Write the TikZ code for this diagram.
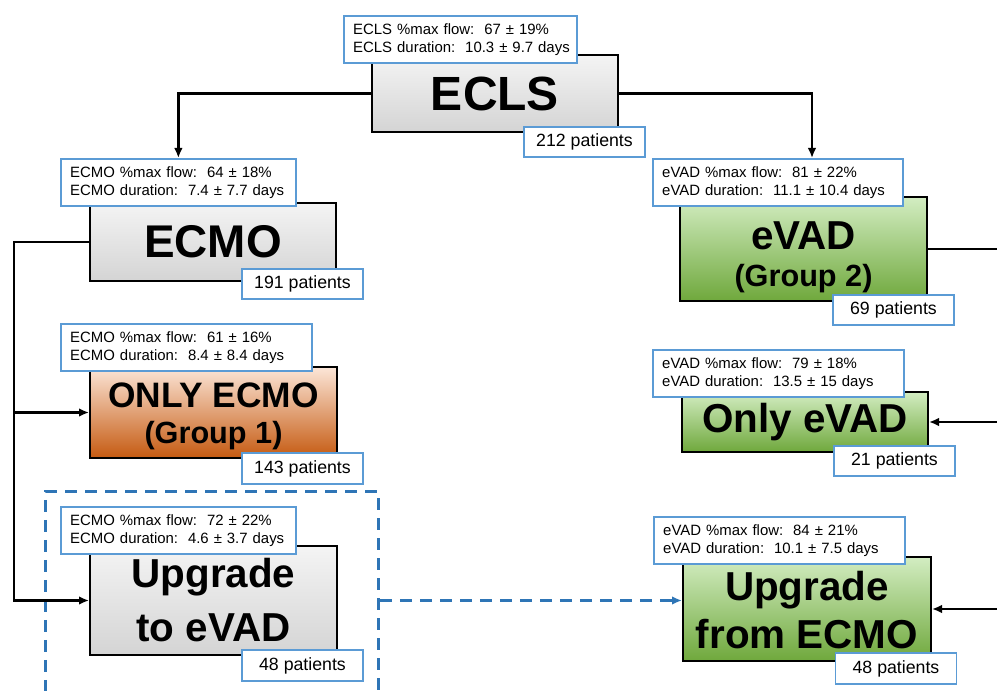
\documentclass[tikz,border=0pt]{standalone}
\usepackage{fontspec}
\setmainfont{Liberation Sans}
\usepackage{tikz}
\usetikzlibrary{arrows.meta,fit,positioning}

\definecolor{infoblue}{HTML}{5B9BD5}
\definecolor{dashblue}{HTML}{2E75B6}
\definecolor{grayA}{HTML}{F4F4F4}
\definecolor{grayB}{HTML}{D4D4D4}
\definecolor{orangeA}{HTML}{FCE6D8}
\definecolor{orangeB}{HTML}{F4B183}
\definecolor{orangeC}{HTML}{C55A11}
\definecolor{greenA}{HTML}{D3EDC2}
\definecolor{greenB}{HTML}{92D050}
\definecolor{greenC}{HTML}{6FA83C}

% two lines of an info box, never broken
\newcommand{\infolines}[2]{\mbox{#1}\\\mbox{#2}}

\tikzset{
	mainbox/.style={draw=black, line width=1.5pt, align=center, inner sep=0pt},
	graybox/.style={mainbox, top color=grayA, bottom color=grayB},
	orangebox/.style={mainbox, top color=orangeA, middle color=orangeB, bottom color=orangeC},
	greenbox/.style={mainbox, top color=greenA, middle color=greenB, bottom color=greenC},
	infobox/.style={draw=infoblue, fill=white, line width=1.3pt, anchor=north west, align=left,
		inner xsep=7pt, inner ysep=0pt, text width={#1-14pt}, minimum height=35.5pt,
		font=\fontsize{11.2}{13.5}\selectfont},
	patbox/.style={draw=infoblue, fill=white, line width=1.3pt, inner sep=0pt,
		minimum width=90.75pt, minimum height=23pt, font=\fontsize{13.3}{15}\selectfont},
	link/.style={draw=black, line width=1.8pt},
	arrow/.style={link, -{Latex[length=7.5pt,width=6.5pt]}},
	dasharrow/.style={draw=dashblue, line width=2pt, dash pattern=on 9pt off 6pt,
		-{Latex[length=7.5pt,width=6.5pt]}},
	groupbox/.style={draw=dashblue, line width=2pt, dash pattern=on 9pt off 6pt, inner sep=11pt},
}

\begin{document}
\begin{tikzpicture}[x=0.75pt,y=-0.75pt]
	\clip (0,0) rectangle (997,691);

	% main boxes
	\node[graybox, minimum width=184.5pt, minimum height=57.75pt,
		font=\fontsize{36}{40}\selectfont\bfseries] (ecls) at (495,93.5) {ECLS};
	\node[graybox, minimum width=184.5pt, minimum height=58.5pt,
		font=\fontsize{34.4}{40}\selectfont\bfseries] (ecmo) at (213,242) {ECMO};
	\node[orangebox, minimum width=185.25pt, minimum height=68.25pt, text height=45.8pt, text depth=0pt,
		font=\fontsize{26.5}{27}\selectfont\bfseries] (onlyecmo) at (213.5,412.5)
		{ONLY ECMO\\{\fontsize{23}{27}\selectfont (Group 1)}};
	\node[graybox, minimum width=185.25pt, minimum height=81.75pt, text height=62.2pt, text depth=0pt,
		font=\fontsize{30.3}{40.5}\selectfont\bfseries] (upevad) at (213.5,600.5) {Upgrade\\to eVAD};
	\node[greenbox, minimum width=185.25pt, minimum height=78pt, text height=57pt, text depth=0pt,
		font=\fontsize{30.3}{28}\selectfont\bfseries] (evad) at (803.5,249)
		{eVAD\\{\fontsize{23}{28}\selectfont (Group 2)}};
	\node[greenbox, minimum width=184.5pt, minimum height=45pt,
		font=\fontsize{30.3}{36}\selectfont\bfseries] (onlyevad) at (805,422) {Only eVAD};
	\node[greenbox, minimum width=186pt, minimum height=78pt, text height=58.5pt, text depth=0pt,
		font=\fontsize{30.3}{36}\selectfont\bfseries] (upecmo) at (807,609) {Upgrade\\from ECMO};

	% flow and duration
	\node[infobox=174.75pt] (eclsinfo) at (343,15)
		{\infolines{ECLS \%max flow:\ \ 67 ± 19\%}{ECLS duration:\ \ 10.3 ± 9.7 days}};
	\node[infobox=176.25pt] (ecmoinfo) at (60,158)
		{\infolines{ECMO \%max flow:\ \ 64 ± 18\%}{ECMO duration:\ \ 7.4 ± 7.7 days}};
	\node[infobox=188.25pt] (onlyecmoinfo) at (60,323)
		{\infolines{ECMO \%max flow:\ \ 61 ± 16\%}{ECMO duration:\ \ 8.4 ± 8.4 days}};
	\node[infobox=176.25pt] (upevadinfo) at (60,506)
		{\infolines{ECMO \%max flow:\ \ 72 ± 22\%}{ECMO duration:\ \ 4.6 ± 3.7 days}};
	\node[infobox=187.5pt] (evadinfo) at (652,158)
		{\infolines{eVAD \%max flow:\ \ 81 ± 22\%}{eVAD duration:\ \ 11.1 ± 10.4 days}};
	\node[infobox=188.25pt] (onlyevadinfo) at (652,349)
		{\infolines{eVAD \%max flow:\ \ 79 ± 18\%}{eVAD duration:\ \ 13.5 ± 15 days}};
	\node[infobox=188.25pt] (upecmoinfo) at (653,516)
		{\infolines{eVAD \%max flow:\ \ 84 ± 21\%}{eVAD duration:\ \ 10.1 ± 7.5 days}};

	% patient counts
	\node[patbox] (eclspat) at (584.5,142) {212 patients};
	\node[patbox] (ecmopat) at (302.5,284) {191 patients};
	\node[patbox] (onlyecmopat) at (302.5,468.5) {143 patients};
	\node[patbox] (upevadpat) at (302.5,665.5) {48 patients};
	\node[patbox] (evadpat) at (893.5,310) {69 patients};
	\node[patbox] (onlyevadpat) at (894.5,461) {21 patients};
	\node[patbox] (upecmopat) at (896,668.5) {48 patients};

	% dashed group round the upgrade
	\node[groupbox, fit=(upevadinfo)(upevad)(upevadpat)] (upgroup) {};

	% connectors
	\draw[arrow] (ecls.west) -| (ecmoinfo.north);
	\draw[arrow] (ecls.east) -| ([xshift=120pt]evadinfo.north west);

	\coordinate (leftbus) at (14,242);
	\draw[arrow] (ecmo.west) -- (leftbus) |- (upevad.west);
	\draw[arrow] (leftbus |- onlyecmo.west) -- (onlyecmo.west);

	\coordinate (rightbus) at (1008,249);
	\draw[arrow] (evad.east) -- (rightbus) |- (upecmo.east);
	\draw[arrow] (rightbus |- onlyevad.east) -- (onlyevad.east);

	\draw[dasharrow] (upgroup.east |- upevad.east) -- (upevad.east -| upecmo.west);
\end{tikzpicture}
\end{document}
